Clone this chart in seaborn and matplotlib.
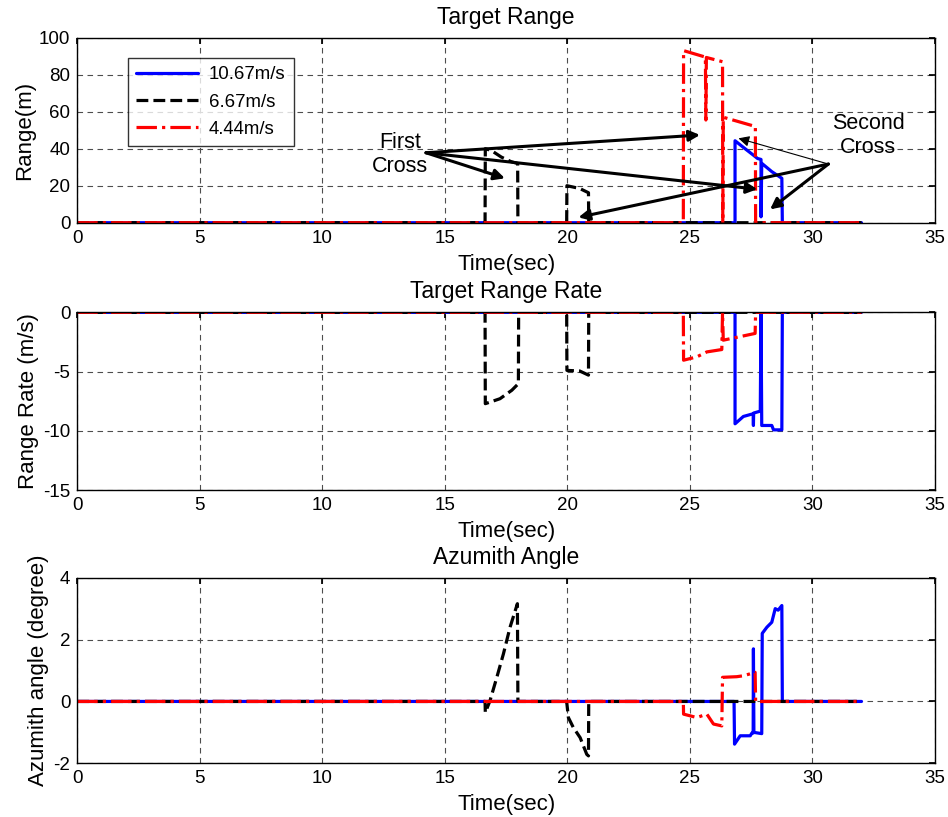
import numpy as np
import pandas as pd
import matplotlib
matplotlib.use("Agg")
import matplotlib.pyplot as plt
import seaborn as sns

# ---- data ----
labels = ["10.67m/s", "6.67m/s", "4.44m/s"]
colors = ["#0000ff", "#000000", "#ff0000"]
styles = ["-", "--", "-."]

# Target range (m)
t_blue_rng = [0, 26.84, 26.84, 27.18, 27.59, 27.76, 27.9, 27.9, 27.93, 28.34, 28.75, 28.77, 32]
r_blue_rng = [0, 0, 44.3, 40.7, 36.5, 34.7, 34.2, 3.2, 32.1, 27.6, 24.0, 0, 0]
t_black_rng = [0, 16.64, 16.65, 16.9, 17.3, 17.7, 17.97, 17.98, 19.97, 19.98, 20.5, 20.86, 20.87, 32]
r_black_rng = [0, 0, 40.0, 39.0, 35.5, 33.0, 32.0, 0, 0, 20.0, 18.5, 16.2, 0, 0]
t_red_rng = [0, 24.73, 24.74, 25.63, 25.65, 25.67, 26.33, 26.34, 26.36, 27.67, 27.68, 32]
r_red_rng = [0, 0, 93.0, 89.5, 55.5, 89.3, 87.0, 0, 57.0, 52.0, 0, 0]

# Target range rate (m/s)
t_blue_rr = [0, 26.84, 26.84, 27.18, 27.58, 27.59, 27.6, 27.87, 27.9, 27.93, 28.34, 28.41, 28.75, 28.77, 32]
v_blue_rr = [0, 0, -9.41, -8.79, -8.56, -9.55, -8.5, -8.34, 0, -9.55, -9.55, -9.92, -9.92, 0, 0]
t_black_rr = [0, 16.64, 16.65, 16.84, 17.25, 17.73, 18.0, 18.01, 19.97, 19.98, 20.5, 20.86, 20.87, 32]
v_black_rr = [0, 0, -7.71, -7.58, -7.29, -6.58, -6.02, 0, 0, -4.9, -4.95, -5.3, 0, 0]
t_red_rr = [0, 24.73, 24.74, 25.28, 25.69, 26.3, 26.33, 26.36, 27.66, 27.68, 32]
v_red_rr = [0, 0, -4.04, -3.76, -3.34, -3.14, 0, -2.35, -1.78, 0, 0]

# Azimuth angle (degree)
t_blue_az = [0, 26.8, 26.82, 27.05, 27.46, 27.53, 27.58, 27.59, 27.61, 27.93, 27.95, 28.14, 28.34, 28.48, 28.6, 28.75, 28.77, 32]
a_blue_az = [0, 0, -1.38, -1.11, -1.11, -1.02, -1.02, 1.70, -1.0, -1.04, 2.2, 2.4, 2.56, 3.0, 2.95, 3.1, 0, 0]
t_black_az = [0, 16.64, 16.65, 16.84, 17.12, 17.39, 17.66, 17.96, 17.98, 19.97, 19.98, 20.04, 20.24, 20.52, 20.79, 20.86, 20.87, 32]
a_black_az = [0, 0, -0.36, 0.02, 0.78, 1.54, 2.4, 3.16, 0, 0, -0.08, -0.52, -0.84, -1.17, -1.71, -1.76, 0, 0]
t_red_az = [0, 24.73, 24.74, 25.28, 25.69, 25.96, 26.3, 26.33, 26.91, 27.18, 27.66, 27.68, 32]
a_red_az = [0, 0, -0.41, -0.52, -0.41, -0.73, -0.79, 0.78, 0.8, 0.83, 0.94, 0, 0]

panels = [
    ("Target Range", "Range(m)", (0, 100), [0, 20, 40, 60, 80, 100],
     [(t_blue_rng, r_blue_rng), (t_black_rng, r_black_rng), (t_red_rng, r_red_rng)]),
    ("Target Range Rate", "Range Rate (m/s)", (-15, 0), [-15, -10, -5, 0],
     [(t_blue_rr, v_blue_rr), (t_black_rr, v_black_rr), (t_red_rr, v_red_rr)]),
    ("Azumith Angle", "Azumith angle (degree)", (-2, 4), [-2, 0, 2, 4],
     [(t_blue_az, a_blue_az), (t_black_az, a_black_az), (t_red_az, a_red_az)]),
]

sns.set_theme(style="white")
plt.rcParams["font.family"] = ["Liberation Sans", "DejaVu Sans"]
plt.rcParams["axes.unicode_minus"] = False
plt.rcParams["text.color"] = "black"
plt.rcParams["axes.labelcolor"] = "black"

fig = plt.figure(figsize=(9.48, 8.17), dpi=100)
boxes = [[0.0815, 0.7274, 0.9048, 0.2265],
         [0.0815, 0.4002, 0.9048, 0.2175],
         [0.0815, 0.0657, 0.9048, 0.2272]]

axes = []
for box, (title, ylab, ylim, yticks, series) in zip(boxes, panels):
    ax = fig.add_axes(box)
    for (t, v), lab, c, ls in zip(series, labels, colors, styles):
        df = pd.DataFrame({"Time": t, "val": v})
        sns.lineplot(data=df, x="Time", y="val", ax=ax, color=c, linestyle=ls,
                     lw=2.3, sort=False, estimator=None, label=lab, legend=False)
    ax.set_xlim(0, 35)
    ax.set_ylim(*ylim)
    ax.set_xticks(range(0, 36, 5))
    ax.set_yticks(yticks)
    ax.grid(True, linestyle=(0, (5, 4)), color="0.3", lw=0.8)
    ax.set_axisbelow(True)
    ax.tick_params(direction="in", length=4, labelsize=13.5, pad=5,
                   top=True, right=True, colors="black")
    for s in ax.spines.values():
        s.set_color("black")
        s.set_linewidth(1.0)
    ax.set_title(title, fontsize=16.5, pad=10, color="black")
    ax.set_xlabel("Time(sec)", fontsize=16, labelpad=5)
    ax.set_ylabel(ylab, fontsize=16, labelpad=3)
    axes.append(ax)

ax0 = axes[0]
leg = ax0.legend(loc="upper left", bbox_to_anchor=(0.059, 0.89), borderaxespad=0,
                 fontsize=13.4, frameon=True, fancybox=False, handlelength=3.3,
                 labelspacing=0.55, borderpad=0.45, handletextpad=0.6)
leg.get_frame().set_edgecolor("black")
leg.get_frame().set_linewidth(1.0)

# annotations
ax0.text(13.17, 37.0, "First\nCross", ha="center", va="center", fontsize=15.5, linespacing=1.2)
ax0.text(32.27, 47.2, "Second\nCross", ha="center", va="center", fontsize=15.5, linespacing=1.2)

first_src = (14.23, 37.8)
for tgt in [(25.41, 47.4), (17.45, 24.0), (27.75, 18.1)]:
    ax0.annotate("", xy=tgt, xytext=first_src,
                 arrowprops=dict(arrowstyle="-|>", lw=2.2, color="black",
                                 mutation_scale=16, shrinkA=0, shrinkB=0))
second_src = (30.65, 31.7)
for tgt, w in [((20.45, 2.9), 2.2), ((28.27, 7.2), 2.2), ((26.98, 45.6), 0.8)]:
    ax0.annotate("", xy=tgt, xytext=second_src,
                 arrowprops=dict(arrowstyle="-|>", lw=w, color="black",
                                 mutation_scale=16, shrinkA=0, shrinkB=0))

fig.savefig("out.png", dpi=100)
